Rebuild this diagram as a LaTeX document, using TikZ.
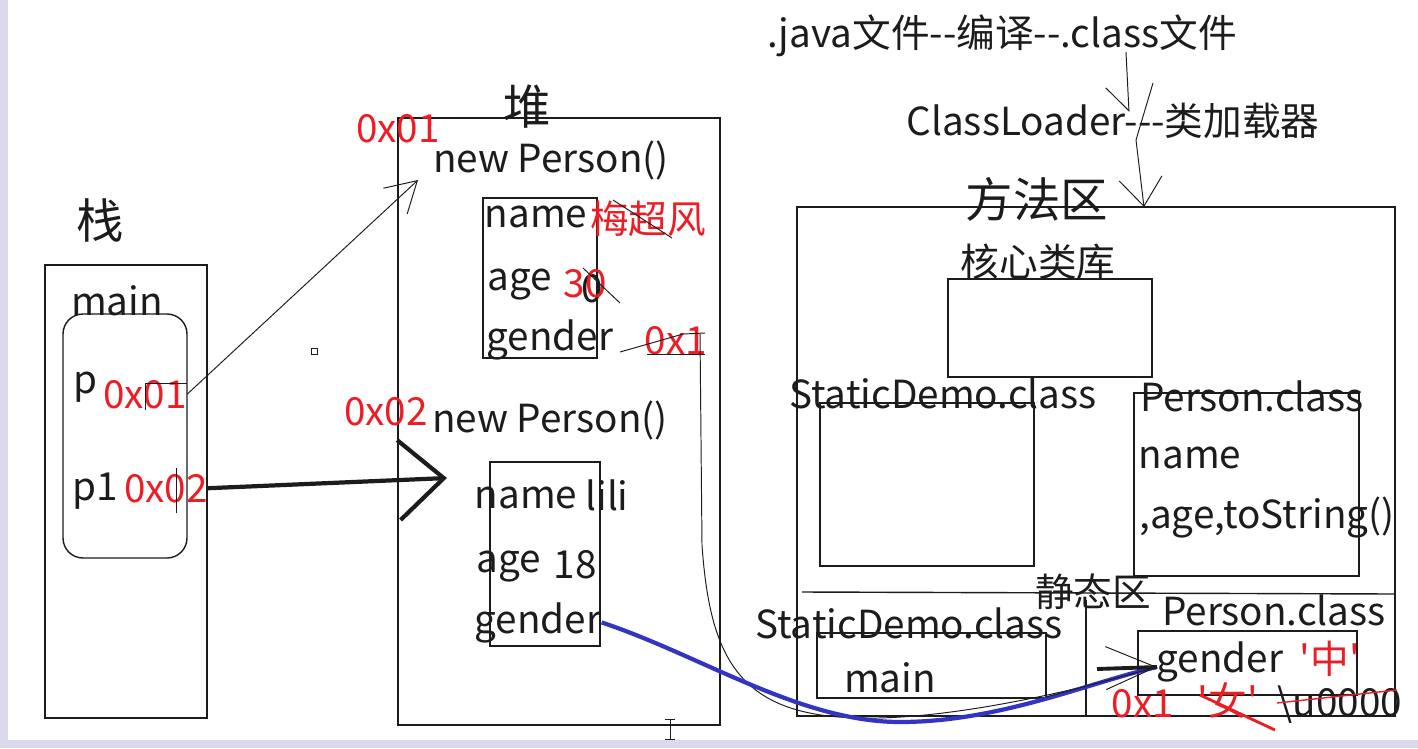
\documentclass[tikz,border=0pt]{standalone}
\usepackage{fontspec}
\setmainfont{Noto Sans CJK SC}[Ligatures=TeXOff]
\usepackage{xcolor}
\usetikzlibrary{arrows.meta}

\definecolor{jred}{RGB}{238,28,36}
\definecolor{jblue}{RGB}{52,52,196}
\definecolor{ink}{RGB}{28,28,28}
\definecolor{edgegray}{RGB}{218,218,236}

\begin{document}
\begin{tikzpicture}[
    x=0.02cm, y=-0.02cm,
    txt/.style={anchor=base, inner sep=0pt, text=ink, font=\fontsize{22}{26}\selectfont},
    big/.style={txt, font=\fontsize{27}{32}\selectfont},
    val/.style={txt, text=jred},
    area/.style={draw=ink, line width=0.8pt},
    ptr/.style={draw=ink, line width=0.55pt},
    barb/.style={-{Straight Barb[length=0.6cm, width=0.7cm]}},
    thickbarb/.style={-{Straight Barb[length=0.9cm, width=1.6cm]}}
]
\useasboundingbox (0,0) rectangle (1418,748);
\fill[edgegray] (0,0) rectangle (8,748);
\fill[edgegray] (0,740) rectangle (1418,748);

% stack
\node[big] (stacklbl) at (100,238) {栈};
\draw[area] (45,265) rectangle (207,718);
\node[txt] (main) at (117,315) {main};
\draw[area, rounded corners=0.4cm] (63,314) rectangle (187,558);
\node[txt] (p) at (85,393) {p};
\node[val] (pval) at (145,408) {0x01};
\draw[ptr] (145,410) -- (145,383) -- (187,383);
\node[txt] (p1) at (95,500) {p1};
\node[val] (p1val) at (166,502) {0x02};
\draw[ptr] (176,468) -- (176,513);
\draw[ptr] (311,348) rectangle (317,354);

% heap
\node[big] (heaplbl) at (527,124) {堆};
\draw[area] (398,118) rectangle (720,725);
\node[val] (addr1) at (398,142) {0x01};
\node[txt] (obj1) at (551,172) {new Person()};
\draw[area] (483,198) rectangle (597,358);
\node[txt] (nm1) at (536,227) {name};
\node[val] (nm1val) at (648,233) {梅超风};
\draw[ptr] (613,200) -- (672,238);
\node[txt] (ag1) at (520,290) {age};
\node[txt] (ag1old) at (592,302) {0};
\node[val] (ag1val) at (585,297) {30};
\draw[ptr] (583,268) -- (620,303);
\node[txt] (gd1) at (550,350) {gender};
\node[val] (gd1val) at (676,354) {0x1};
\draw[ptr] (620,352) -- (683,334) -- (705,333);
\draw[ptr] (647,354) -- (705,354);

\node[val] (addr2) at (386,425) {0x02};
\node[txt] (obj2) at (550,432) {new Person()};
\draw[area] (490,462) rectangle (600,646);
\node[txt] (nm2) at (526,508) {name};
\node[txt] (nm2val) at (607,510) {lili};
\node[txt] (ag2) at (509,572) {age};
\node[txt] (ag2val) at (575,578) {18};
\node[txt] (gd2) at (538,633) {gender};
\draw[ptr] (670,719) -- (670,739) (665,719) -- (675,719) (665,739) -- (675,739);

% method area
\node[txt] (src) at (1002,47) {.java文件--编译--.class文件};
\node[txt] (loader) at (1113,135) {ClassLoader---类加载器};
\node[big] (methlbl) at (1037,217) {方法区};
\draw[area] (797,207) rectangle (1395,716);
\node[txt] (corelbl) at (1038,276) {核心类库};
\draw[area] (948,279) rectangle (1152,377);
\node[txt] (sdlbl) at (943,408) {StaticDemo.class};
\draw[area] (820,403) rectangle (1034,566);
\node[txt] (pclbl) at (1252,411) {Person.class};
\draw[area] (1134,393) rectangle (1359,576);
\node[txt] (pcname) at (1190,468) {name};
\node[txt] (pcrest) at (1267,528) {,age,toString()};

% static area
\draw[area] (802,592) -- (1394,594);
\node[txt] (staticlbl) at (1093,606) {静态区};
\draw[area] (1086,600) -- (1086,716);
\node[txt] (ssd) at (909,638) {StaticDemo.class};
\draw[area] (817,633) rectangle (1046,698);
\node[txt] (smain) at (890,692) {main};
\node[txt] (spc) at (1274,625) {Person.class};
\draw[area] (1138,631) rectangle (1357,695);
\node[txt] (sgd) at (1220,672) {gender};
\node[val] (sgdval) at (1330,673) {'中'};
\node[val] (sold1) at (1143,717) {0x1};
\node[val] (sold2) at (1228,715) {'女'};
\node[txt] (sdef) at (1340,716) {\textbackslash u0000};
\draw[jred, line width=1.6pt] (1200,695) -- (1275,730);
\draw[jred, line width=0.8pt] (1277,703) -- (1397,690);

% connectors
\coordinate (srcdrop) at (1126,52);
\coordinate (loaddrop) at (1129,112);
\coordinate (loadfrom) at (1153,83);
\coordinate (loadbend) at (1136,140);
\coordinate (methin) at (1144,207);
\coordinate (obj1in) at (418,180);
\coordinate (obj2in) at (447,478);
\coordinate (gdin) at (1157,667);
\coordinate (smaincorner) at (1046,697);

\draw[ptr, -{Straight Barb[right, length=0.48cm, width=0.88cm]}] (srcdrop) -- (loaddrop);
\draw[ptr, -{Straight Barb[length=0.56cm, width=0.86cm]}] (loadfrom) -- (loadbend) -- (methin);
\draw[ptr, barb] (pval.east) -- (obj1in);
\draw[ink, line width=2.4pt, thickbarb] (p1val.east) -- (obj2in);
\draw[ptr] (700,333) -- (702,545) .. controls (710,660) and (740,716) .. (860,718)
    .. controls (950,720) and (1080,690) .. (gdin);
\draw[jblue, line width=2.4pt] (gd2.east) .. controls (700,655) and (800,722) .. (900,722)
    .. controls (1000,722) and (1090,682) .. (gdin);
\draw[ptr] (smaincorner) -- (gdin);
\draw[ink, line width=2.2pt] (1097,669) -- (gdin);
\draw[ptr, -{Straight Barb[length=1cm, width=0.86cm]}] (1110,668) -- (gdin);
\end{tikzpicture}
\end{document}
